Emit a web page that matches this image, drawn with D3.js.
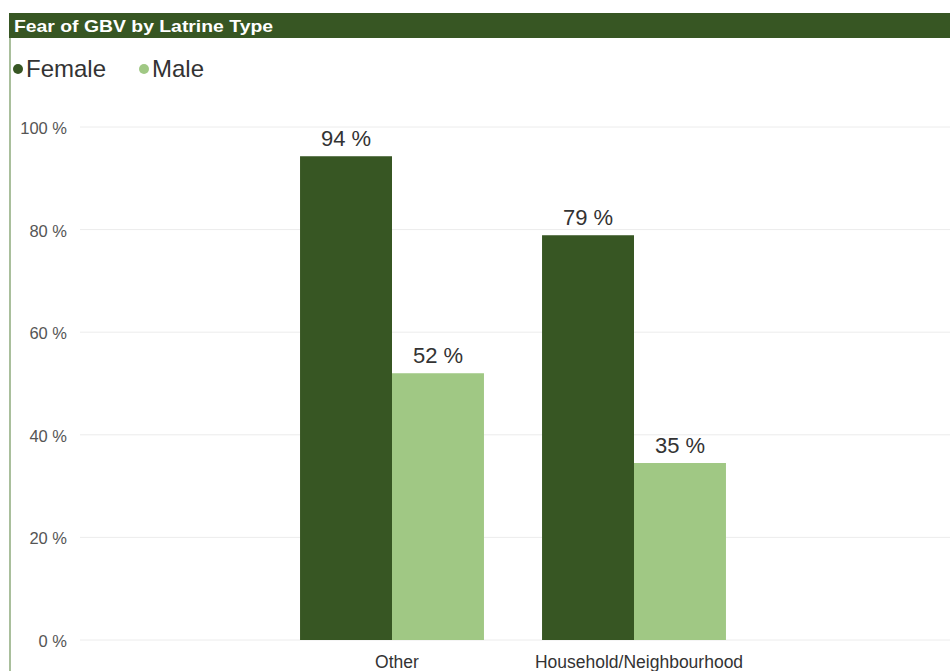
<!DOCTYPE html>
<html>
<head>
<meta charset="utf-8">
<script src="https://cdn.jsdelivr.net/npm/d3@7.9.0/dist/d3.min.js"></script>
<style>
  body { margin: 0; background: #fff; }
  svg { display: block; font-family: "Liberation Sans", Arial, sans-serif; }
</style>
</head>
<body>
<svg id="chart" width="950" height="671"></svg>
<script>
// chart data
const categories = ['Other', 'Household/Neighbourhood'];
const seriesNames = ['Female', 'Male'];
const femaleValues = [94.3, 78.9];
const maleValues = [52.0, 34.5];
const yTicks = [0, 20, 40, 60, 80, 100];

const colors = { Female: '#375623', Male: '#a0c884' };

const svg = d3.select('#chart');

// frame: left border + title bar
svg.append('rect')
    .attr('x', 9).attr('y', 13).attr('width', 2).attr('height', 660)
    .attr('fill', '#a9bf9c');
svg.append('rect')
    .attr('x', 9).attr('y', 13).attr('width', 941).attr('height', 25)
    .attr('fill', '#375623');
svg.append('text')
    .attr('x', 14).attr('y', 32)
    .attr('fill', '#fff')
    .attr('font-size', 17).attr('font-weight', 'bold')
    .attr('textLength', 259).attr('lengthAdjust', 'spacingAndGlyphs')
    .text('Fear of GBV by Latrine Type');

// legend
const legend = svg.append('g');
const legendX = [18, 144];
seriesNames.forEach((name, i) => {
    legend.append('circle')
        .attr('cx', legendX[i]).attr('cy', 69).attr('r', 5)
        .attr('fill', colors[name]);
    legend.append('text')
        .attr('x', legendX[i] + 8).attr('y', 77)
        .attr('fill', '#333').attr('font-size', 24)
        .text(name);
});

// scales
const y = d3.scaleLinear().domain([0, 100]).range([640, 127]);
const x0 = d3.scaleBand()
    .domain(categories)
    .range([271, 755])
    .paddingInner(0.24)
    .paddingOuter(0.12);
const x1 = d3.scaleBand()
    .domain(seriesNames)
    .range([0, x0.bandwidth()]);

// gridlines + y labels
const grid = svg.append('g');
yTicks.forEach(t => {
    grid.append('line')
        .attr('x1', 80).attr('x2', 950)
        .attr('y1', y(t)).attr('y2', y(t))
        .attr('stroke', '#ececec').attr('stroke-width', 1);
    grid.append('text')
        .attr('x', 67).attr('y', y(t) + 7)
        .attr('text-anchor', 'end')
        .attr('fill', '#555').attr('font-size', 16.5)
        .text(t + ' %');
});

// bars
const rows = categories.map((c, i) => ({
    category: c,
    values: [
        { series: 'Female', value: femaleValues[i] },
        { series: 'Male', value: maleValues[i] }
    ]
}));

const groups = svg.selectAll('g.cat')
    .data(rows)
    .join('g')
    .attr('class', 'cat')
    .attr('transform', d => `translate(${x0(d.category)},0)`);

groups.selectAll('rect')
    .data(d => d.values)
    .join('rect')
    .attr('x', d => x1(d.series))
    .attr('y', d => y(d.value))
    .attr('width', x1.bandwidth())
    .attr('height', d => y(0) - y(d.value))
    .attr('fill', d => colors[d.series]);

groups.selectAll('text.val')
    .data(d => d.values)
    .join('text')
    .attr('class', 'val')
    .attr('x', d => x1(d.series) + x1.bandwidth() / 2)
    .attr('y', d => y(d.value) - 10)
    .attr('text-anchor', 'middle')
    .attr('fill', '#333').attr('font-size', 22)
    .text(d => Math.round(d.value) + ' %');

// x labels
svg.selectAll('text.cat-label')
    .data(categories)
    .join('text')
    .attr('class', 'cat-label')
    .attr('x', d => x0(d) + x0.bandwidth() / 2 + 5)
    .attr('y', 668)
    .attr('text-anchor', 'middle')
    .attr('fill', '#333').attr('font-size', 17.5)
    .text(d => d);
</script>
</body>
</html>
